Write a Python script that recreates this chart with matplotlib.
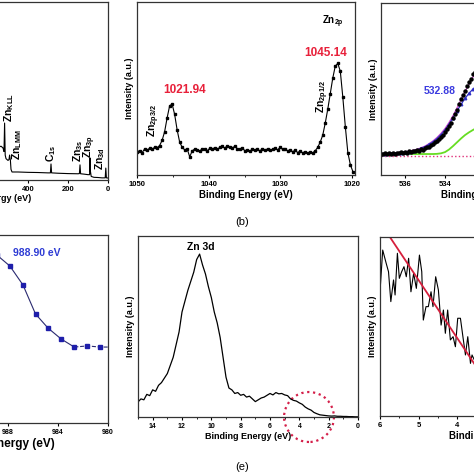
import numpy as np
import matplotlib
matplotlib.use("Agg")
import matplotlib.pyplot as plt
from matplotlib.patches import Ellipse
from matplotlib.ticker import MultipleLocator

plt.rcParams['font.family'] = ['Liberation Sans', 'DejaVu Sans']
plt.rcParams['font.weight'] = 'bold'
plt.rcParams['axes.labelweight'] = 'bold'
plt.rcParams['mathtext.fontset'] = 'custom'
plt.rcParams['mathtext.rm'] = 'Liberation Sans:bold'
plt.rcParams['mathtext.bf'] = 'Liberation Sans:bold'
plt.rcParams['mathtext.default'] = 'bf'

# ---------------- data ----------------
# (a) survey spectrum
survey_be = [1200, 1000, 800, 600, 545, 535, 530, 525, 520, 517, 514, 510, 500, 495, 492, 488,
             485, 480, 450, 400, 350, 300, 288, 285, 282, 250, 200, 150, 143, 140, 137, 120,
             100, 92, 90, 88, 84, 70, 50, 30, 14, 11, 8, 0]
survey_int = [0.30, 0.25, 0.20, 0.18, 0.185, 0.19, 0.185, 0.18, 0.16, 0.32, 0.14, 0.12, 0.11, 0.115, 0.14, 0.11,
              0.06, 0.045, 0.045, 0.043, 0.042, 0.040, 0.040, 0.090, 0.040, 0.038, 0.036, 0.035, 0.036, 0.085, 0.035, 0.033,
              0.030, 0.030, 0.124, 0.050, 0.020, 0.015, 0.014, 0.012, 0.012, 0.067, 0.012, 0.011]

# (b) Zn 2p
zn2p_be = np.arange(1050.0, 1019.8, -0.35)
zn2p_int = [0.135, 0.14, 0.128, 0.15, 0.142, 0.155, 0.148, 0.16, 0.158, 0.17,
            0.20, 0.25, 0.33, 0.40, 0.41, 0.35, 0.26, 0.19, 0.16, 0.145,
            0.15, 0.105, 0.14, 0.15, 0.145, 0.138, 0.152, 0.148, 0.14, 0.155,
            0.15, 0.158, 0.148, 0.16, 0.165, 0.155, 0.17, 0.162, 0.158, 0.165,
            0.152, 0.148, 0.155, 0.14, 0.146, 0.138, 0.15, 0.143, 0.148, 0.14,
            0.152, 0.145, 0.15, 0.142, 0.148, 0.155, 0.145, 0.16, 0.148, 0.15,
            0.14, 0.145, 0.135, 0.142, 0.13, 0.138, 0.128, 0.135, 0.125, 0.132,
            0.128, 0.14, 0.16, 0.19, 0.23, 0.30, 0.38, 0.47, 0.56, 0.63,
            0.645, 0.60, 0.45, 0.28, 0.13, 0.06, 0.02]

# (c) O 1s
o1s_be = np.arange(537.2, 532.35, -0.1)
o1s_int = [0.125, 0.12, 0.128, 0.122, 0.13, 0.124, 0.127, 0.121, 0.13, 0.126,
           0.132, 0.128, 0.134, 0.13, 0.138, 0.133, 0.14, 0.137, 0.145, 0.142,
           0.15, 0.148, 0.155, 0.16, 0.165, 0.172, 0.178, 0.19, 0.198, 0.21,
           0.22, 0.235, 0.248, 0.265, 0.285, 0.305, 0.33, 0.355, 0.38, 0.41,
           0.44, 0.465, 0.49, 0.515, 0.54, 0.56, 0.585, 0.60, 0.615]
fit_be = np.arange(537.2, 532.35, -0.2)
fit_env = [0.125, 0.126, 0.127, 0.128, 0.13, 0.132, 0.135, 0.139, 0.144, 0.15, 0.158, 0.168, 0.182,
           0.198, 0.218, 0.242, 0.27, 0.305, 0.345, 0.39, 0.437, 0.485, 0.53, 0.57, 0.605]
fit_peak1 = [0.125, 0.125, 0.126, 0.127, 0.128, 0.13, 0.132, 0.135, 0.14, 0.146, 0.155, 0.165, 0.178,
             0.193, 0.212, 0.235, 0.262, 0.295, 0.332, 0.372, 0.41, 0.445, 0.475, 0.50, 0.52]
fit_peak2 = [0.122, 0.122, 0.122, 0.122, 0.122, 0.122, 0.122, 0.122, 0.122, 0.122, 0.122, 0.122, 0.122,
             0.122, 0.123, 0.126, 0.133, 0.148, 0.168, 0.19, 0.212, 0.232, 0.248, 0.262, 0.275]
fit_bg = [0.113] * 25

# (d) edge
edge_e = [989.9, 988.9, 987.85, 986.8, 985.8, 984.8, 983.75, 982.7, 981.65, 980.65]
edge_v = [0.97, 0.894, 0.835, 0.734, 0.58, 0.505, 0.447, 0.404, 0.41, 0.404]

# (e) valence band
vb_be = np.arange(15.0, -0.1, -0.2)
vb_int = [0.083, 0.10, 0.095, 0.125, 0.118, 0.15, 0.142, 0.175, 0.19, 0.215,
          0.24, 0.285, 0.33, 0.40, 0.47, 0.58, 0.64, 0.70, 0.75, 0.80,
          0.87, 0.90, 0.84, 0.79, 0.72, 0.66, 0.58, 0.52, 0.44, 0.33,
          0.22, 0.16, 0.15, 0.13, 0.135, 0.12, 0.125, 0.11, 0.115, 0.10,
          0.085, 0.095, 0.105, 0.11, 0.12, 0.13, 0.122, 0.135, 0.128, 0.13,
          0.122, 0.118, 0.10, 0.092, 0.088, 0.078, 0.07, 0.055, 0.045, 0.038,
          0.025, 0.018, 0.012, 0.01, 0.008, 0.006, 0.005, 0.006, 0.004, 0.004,
          0.003, 0.003, 0.002, 0.002, 0.001, 0.001]

# (f) VB edge zoom
vbz_be = [6.00, 5.93, 5.84, 5.78, 5.72, 5.65, 5.61, 5.55, 5.50, 5.44, 5.38, 5.32, 5.26, 5.20,
          5.13, 5.06, 4.98, 4.92, 4.88, 4.81, 4.75, 4.68, 4.63, 4.56, 4.49, 4.42, 4.36, 4.31,
          4.25, 4.18, 4.11, 4.05, 3.99, 3.92, 3.85, 3.79, 3.73, 3.66, 3.62, 3.56, 3.50, 3.44]
vbz_int = [0.694, 0.927, 0.853, 0.806, 0.639, 0.760, 0.676, 0.909, 0.769, 0.806, 0.834, 0.778, 0.881, 0.694,
           0.797, 0.713, 0.899, 0.806, 0.536, 0.611, 0.611, 0.694, 0.611, 0.778, 0.704, 0.508, 0.592, 0.462,
           0.592, 0.425, 0.443, 0.387, 0.546, 0.546, 0.434, 0.341, 0.443, 0.294, 0.341, 0.313, 0.36, 0.30]
line_be = [6.3, 3.0]
line_int = [1.18, 0.11]

W = 474.0


def rect(l, t, r, b):
    return [l / W, 1 - b / W, (r - l) / W, (b - t) / W]


def style(ax, fs=5.5):
    for s in ax.spines.values():
        s.set_linewidth(0.9)
        s.set_color('#333333')
    ax.tick_params(axis='x', labelsize=fs, length=2.5, width=0.8, pad=1.5, direction='out')
    ax.tick_params(axis='x', which='minor', length=1.5, width=0.6)
    ax.set_yticks([])


fig = plt.figure(figsize=(4.74, 4.74), dpi=100)

# ---- (a)
ax = fig.add_axes(rect(-132, 2, 108, 180))
ax.plot(survey_be, survey_int, color='black', lw=0.8)
ax.set_xlim(1200, 0)
ax.set_ylim(0, 1)
ax.set_xticks([1200, 1000, 800, 600, 400, 200, 0])
style(ax, 5.5)
ax.set_xlabel('Binding Energy (eV)', fontsize=6.5, labelpad=1)
for lab, e, y in [('O$_{1s}$', 560, 0.40), ('Zn$_{KLL}$', 495, 0.326), ('Zn$_{LMM}$', 455, 0.112),
                  ('C$_{1s}$', 285, 0.10), ('Zn$_{3s}$', 150, 0.10), ('Zn$_{3p}$', 90, 0.124),
                  ('Zn$_{3d}$', 38, 0.056)]:
    ax.text(e, y, lab, rotation=90, ha='center', va='bottom', fontsize=7.5)

# ---- (b)
ax = fig.add_axes(rect(137, 2, 355, 175))
ax.plot(zn2p_be, zn2p_int, color='black', lw=0.8, marker='s', ms=1.6)
ax.set_xlim(1050, 1019.6)
ax.set_ylim(0, 1)
ax.set_xticks([1050, 1040, 1030, 1020])
ax.xaxis.set_minor_locator(MultipleLocator(5))
style(ax, 5.5)
ax.set_xlabel('Binding Energy (eV)', fontsize=7, labelpad=2)
ax.set_ylabel('Intensity (a.u.)', fontsize=6.5, labelpad=2)
ax.text(1022.7, 0.885, 'Zn$_{2p}$', ha='center', va='center', fontsize=7)
ax.text(1023.65, 0.705, '1045.14', ha='center', va='center', fontsize=8.5, color='#e8203a')
ax.text(1043.3, 0.49, '1021.94', ha='center', va='center', fontsize=8.5, color='#e8203a')
ax.text(1047.6, 0.22, 'Zn$_{2p3/2}$', rotation=90, ha='center', va='bottom', fontsize=7.5)
ax.text(1024.1, 0.36, 'Zn$_{2p1/2}$', rotation=90, ha='center', va='bottom', fontsize=7.5)
fig.text(242 / W, 1 - 222 / W, '(b)', ha='center', va='center', fontsize=8, fontweight='normal')

# ---- (c)
ax = fig.add_axes(rect(381, 3, 595, 175))
ax.plot(fit_be, fit_bg, color='#e0307a', lw=1.0, ls=':')
ax.plot(fit_be, fit_peak2, color='#66dd22', lw=1.3)
ax.plot(fit_be, fit_env, color='#cc44cc', lw=0.9)
ax.plot(fit_be, fit_peak1, color='#3030c8', lw=0.9, marker='^', ms=1.8)
ax.plot(o1s_be, o1s_int, ls='none', marker='o', ms=2.2, color='black')
ax.set_xlim(537.2, 526.5)
ax.set_ylim(0, 1)
ax.set_xticks([536, 534, 532, 530, 528])
style(ax, 5.5)
ax.set_xlabel('Binding Energy (eV)', fontsize=7, labelpad=2)
ax.set_ylabel('Intensity (a.u.)', fontsize=6.5, labelpad=2)
ax.text(534.25, 0.49, '532.88', ha='center', va='center', fontsize=7.5, color='#3a3adf')

# ---- (d)
ax = fig.add_axes(rect(-112, 235, 108, 423))
ax.plot(edge_e[:8], edge_v[:8], color='#2a2a70', lw=0.8)
ax.plot(edge_e[7:] + [980], edge_v[7:] + [edge_v[-1]], color='#2a2a70', lw=0.8, ls='--')
ax.plot(edge_e, edge_v, ls='none', marker='s', ms=3, color='#1e1eaa')
ax.set_xlim(997.6, 980)
ax.set_ylim(0, 1)
ax.set_xticks([996, 992, 988, 984, 980])
style(ax, 5)
ax.set_xlabel('Binding Energy (eV)', fontsize=8.5, labelpad=2)
ax.text(987.6, 0.904, '988.90 eV', ha='left', va='center', fontsize=7.5, color='#2d3bd4')

# ---- (e)
ax = fig.add_axes(rect(138, 236, 358, 417))
ax.plot(vb_be, vb_int, color='black', lw=0.9)
ax.set_xlim(15, 0)
ax.set_ylim(0, 1)
ax.set_xticks([14, 12, 10, 8, 6, 4, 2, 0])
ax.xaxis.set_minor_locator(MultipleLocator(1))
style(ax, 5)
ax.set_xlabel('Binding Energy (eV)', fontsize=6.5, labelpad=2)
ax.set_ylabel('Intensity (a.u.)', fontsize=6.5, labelpad=2)
ax.text(10.7, 0.94, 'Zn 3d', ha='center', va='center', fontsize=7.5)
ax.add_patch(Ellipse((3.34, 0.0), 3.4, 0.276, fill=False, ls=':', lw=1.6,
                     ec='#d4204a', clip_on=False))
fig.text(242 / W, 1 - 467 / W, '(e)', ha='center', va='center', fontsize=8, fontweight='normal')

# ---- (f)
ax = fig.add_axes(rect(380, 237, 612, 416))
ax.plot(vbz_be, vbz_int, color='black', lw=0.8)
ax.plot(line_be, line_int, color='#d61f3c', lw=1.3)
ax.set_xlim(6, 0)
ax.set_ylim(0, 1)
ax.set_xticks([6, 5, 4, 3, 2, 1, 0])
ax.xaxis.set_minor_locator(MultipleLocator(0.5))
style(ax, 5.5)
ax.set_xlabel('Binding Energy (eV)', fontsize=7, labelpad=2)
ax.set_ylabel('Intensity (a.u.)', fontsize=6.5, labelpad=2)

fig.savefig('out.png', dpi=100, facecolor='white')
